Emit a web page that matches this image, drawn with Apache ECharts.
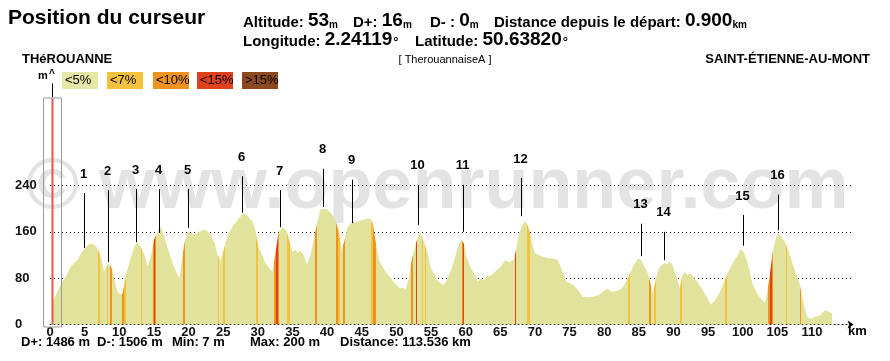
<!DOCTYPE html>
<html><head><meta charset="utf-8">
<script src="https://cdn.jsdelivr.net/npm/echarts@6/dist/echarts.min.js"></script>
<style>html,body{margin:0;padding:0;background:#fff}#c{width:890px;height:361px}</style>
</head><body><div id="c"></div>
<script>
// ---------------- data ----------------
const distKm = [0.3,0.8,1.6,2.4,3.0,3.5,4.0,4.5,5.0,5.7,6.2,6.6,7.0,7.3,7.6,7.8,8.2,8.5,9.0,9.3,9.7,10.2,10.5,10.9,11.3,11.7,12.2,12.6,13.0,13.3,13.7,14.1,14.6,15.0,15.5,15.9,16.3,16.7,17.3,17.9,18.3,18.7,19.0,19.4,19.8,20.1,20.6,21.0,21.5,22.2,22.8,23.2,23.8,24.1,24.6,25.0,25.3,25.8,26.5,27.2,27.9,28.5,29.2,29.6,30.1,30.6,31.1,31.6,32.1,32.5,33.0,33.7,34.2,34.7,35.0,35.4,35.8,36.1,36.6,37.1,37.6,38.3,39.0,39.5,40.0,40.6,41.2,41.7,42.1,42.5,42.9,43.4,43.8,44.5,45.0,45.6,46.2,46.6,46.9,47.2,47.6,48.1,48.6,49.2,49.8,50.5,51.0,51.3,51.8,52.2,52.8,53.4,53.9,54.4,54.9,55.4,55.8,56.3,56.8,57.2,57.7,58.2,58.7,59.1,59.4,59.8,60.1,60.5,60.9,61.3,61.8,62.2,62.6,63.0,63.5,64.0,64.5,65.1,65.7,66.3,66.9,67.3,67.6,68.1,68.6,69.0,69.3,69.6,70.0,70.6,71.2,71.8,72.4,73.0,73.3,73.7,74.1,74.5,75.0,75.5,76.2,76.9,77.6,78.4,79.0,79.3,79.9,80.5,81.1,81.7,82.3,82.9,83.4,83.7,84.3,84.9,85.3,85.8,86.2,86.5,86.8,87.0,87.4,87.8,88.2,88.7,89.1,89.4,89.8,90.1,90.5,90.9,91.2,91.6,92.0,92.4,92.8,93.3,93.7,94.3,94.9,95.4,96.0,96.6,97.2,97.8,98.3,98.8,99.3,99.7,100.1,100.5,101.0,101.4,102.0,102.6,103.2,103.5,103.8,104.3,104.7,105.0,105.4,105.7,106.2,106.7,107.2,107.7,108.2,108.6,109.0,109.3,109.7,110.0,110.5,111.2,111.6,112.0,112.4,112.9];
const altM = [35,50,71,85,100,106,112,124,131,140,139,136,128,117,105,91,100,107,94,80,57,52,54,83,100,117,135,141,136,129,118,100,120,146,160,169,160,143,120,100,88,80,110,140,158,160,155,155,160,164,160,155,140,123,110,125,140,158,172,182,192,188,178,165,134,120,106,98,91,120,160,168,160,137,125,129,123,128,120,103,120,160,198,200,199,192,180,160,129,145,166,174,176,178,180,182,183,175,152,130,108,98,88,80,71,62,64,60,80,111,140,160,145,129,100,88,77,72,68,75,88,105,126,140,147,138,117,105,94,85,74,80,76,83,84,88,94,100,111,108,111,130,152,170,179,170,157,140,123,120,117,115,114,113,111,100,88,74,72,68,60,48,47,48,50,51,58,62,56,58,60,68,80,88,103,114,112,100,92,80,65,54,75,94,102,106,104,109,104,94,80,62,82,91,86,88,83,76,68,58,45,34,42,54,70,88,100,111,120,131,125,114,92,71,55,45,37,55,77,123,145,157,153,149,140,123,105,88,70,48,25,14,10,11,14,16,22,25,22,19];

// slope bands (km from, km to, class index into slopeLabels)
const bandFromKm = [7.0,8.2,8.7,10.4,10.7,13.1,14.85,15.0,15.15,19.2,24.2,25.0,29.8,32.4,32.65,32.9,34.2,38.2,41.3,41.6,42.3,46.4,46.6,52.1,52.8,53.7,54.1,59.5,59.6,67.1,68.9,83.5,86.4,87.2,91.0,97.5,100.0,103.7,104.0,104.2,106.2,108.2];
const bandToKm   = [7.2,8.4,9.0,10.7,10.9,13.35,15.0,15.15,15.3,19.5,24.4,25.2,30.0,32.65,32.9,33.1,34.6,38.6,41.6,41.9,42.6,46.6,47.0,52.4,53.0,53.9,54.3,59.6,59.8,67.3,69.3,83.7,86.7,87.5,91.2,97.7,100.1,104.0,104.2,104.4,106.4,108.4];
const bandClass  = [1,1,2,2,1,1,2,3,2,2,1,1,1,2,3,2,1,2,2,1,2,1,2,2,3,1,1,2,3,3,1,1,2,1,1,1,1,2,3,2,1,2];

const slopeLabels = ['<5%','<7%','<10%','<15%','>15%'];

// numbered summits
const markerName = ['1','2','3','4','5','6','7','8','9','10','11','12','13','14','15','16'];
const markerKm   = [4.9,8.4,12.4,15.7,19.9,27.7,33.2,39.4,43.6,53.1,59.6,68.0,85.3,88.6,100.0,105.1];
const markerTopM = [227,232,234,234,234,256,232,269,250,241,241,253,174,160,189,224];
const markerBotM = [132,108,142,158,167,193,168,203,175,172,160,187,118,111,136,163];

const cursorKm = 0.3;
const cursorAlt = 53, cursorDPlus = 16, cursorDMinus = 0, cursorDist = '0.900';
const cursorLon = '2.24119', cursorLat = '50.63820';
const totalDPlus = 1486, totalDMinus = 1506, minAlt = 7, maxAlt = 200, totalDist = '113.536';
const startName = 'THéROUANNE', endName = 'SAINT-ÉTIENNE-AU-MONT', routeName = '[ TherouannaiseA ]';

// ---------------- styles ----------------
const FF = "'Liberation Sans', Arial, sans-serif";
const slopeColors = ['#e1e39c','#f2c23c','#f0921e','#e0401c','#8e4a1c'];
const legendBoxColors = ['#e4e8a6','#f2c23c','#f0921e','#e0401c','#8e4a1c'];

const profile = distKm.map((d,i)=>[d, altM[i]]);
const pieces = bandFromKm.map((f,i)=>({gte:f, lt:bandToKm[i], color:slopeColors[bandClass[i]]}));
const markers = markerKm.map((k,i)=>[k, markerTopM[i], markerBotM[i]]);

const chart = echarts.init(document.getElementById('c'), null, {renderer:'canvas'});

const lbl = {font:'bold 15px '+FF, fill:'#000', verticalAlign:'bottom'};
const val = {font:'bold 19px '+FF, fill:'#000', verticalAlign:'bottom'};
const unit = {font:'bold 10px '+FF, fill:'#000', verticalAlign:'bottom'};
const deg = {font:'bold 13px '+FF, fill:'#000', verticalAlign:'bottom', padding:[0,0,0,1]};
const richH = {l:lbl, v:val, u:unit, d:deg};

const graphics = [
  {type:'text', z:-10, left:26, top:152, style:{text:'© www.openrunner.com', font:'bold 72px '+FF, fill:'#e3e3e3'}},
  {type:'text', left:8, top:8, style:{text:'Position du curseur', font:'bold 21px '+FF, fill:'#000'}},
  {type:'text', left:243, top:11, style:{text:'{l|Altitude: }{v|'+cursorAlt+'}{u|m}', rich:richH}},
  {type:'text', left:353, top:11, style:{text:'{l|D+: }{v|'+cursorDPlus+'}{u|m}', rich:richH}},
  {type:'text', left:430, top:11, style:{text:'{l|D- : }{v|'+cursorDMinus+'}{u|m}', rich:richH}},
  {type:'text', left:494, top:11, style:{text:'{l|Distance depuis le départ: }{v|'+cursorDist+'}{u|km}', rich:richH}},
  {type:'text', left:243, top:30, style:{text:'{l|Longitude: }{v|'+cursorLon+'}{d|°}', rich:richH}},
  {type:'text', left:415, top:30, style:{text:'{l|Latitude: }{v|'+cursorLat+'}{d|°}', rich:richH}},
  {type:'text', left:22, top:53, style:{text:startName, font:'bold 13px '+FF, fill:'#000'}},
  {type:'text', left:'center', top:54, style:{text:routeName, font:'11px '+FF, fill:'#000'}},
  {type:'text', right:20, top:53, style:{text:endName, font:'bold 13px '+FF, fill:'#000'}},
  {type:'text', left:38, top:70, style:{text:'m', font:'bold 11px '+FF, fill:'#000'}},
  {type:'text', left:49, top:69, style:{text:'^', font:'bold 10px '+FF, fill:'#000'}},
  {type:'text', left:848, top:325, style:{text:'km', font:'bold 13px '+FF, fill:'#000'}},
  {type:'text', left:21, top:336, style:{text:'D+: '+totalDPlus+' m', font:'bold 13px '+FF, fill:'#000'}},
  {type:'text', left:97, top:336, style:{text:'D-: '+totalDMinus+' m', font:'bold 13px '+FF, fill:'#000'}},
  {type:'text', left:172, top:336, style:{text:'Min: '+minAlt+' m', font:'bold 13px '+FF, fill:'#000'}},
  {type:'text', left:250, top:336, style:{text:'Max: '+maxAlt+' m', font:'bold 13px '+FF, fill:'#000'}},
  {type:'text', left:340, top:336, style:{text:'Distance: '+totalDist+' km', font:'bold 13px '+FF, fill:'#000'}}
];
const legendX = [62,107,153,197,242];
slopeLabels.forEach((t,i)=>{
  graphics.push({type:'rect', left:legendX[i], top:72, shape:{width:36,height:17}, style:{fill:legendBoxColors[i]}});
  graphics.push({type:'text', left:legendX[i]+3, top:74, style:{text:t, font:'13px '+FF, fill:'#000'}});
});

chart.setOption({
  animation:false,
  backgroundColor:'#fff',
  grid:{left:50, right:36.4, top:185.5, bottom:36.5},
  xAxis:{type:'value', min:0, max:116, interval:5,
    axisLine:{show:true, symbol:['none','arrow'], symbolSize:[6,6], lineStyle:{color:'#000', type:[1,3], width:1}},
    axisTick:{show:false}, splitLine:{show:false},
    axisLabel:{margin:1, color:'#111', fontFamily:FF, fontWeight:'bold', fontSize:13,
      formatter:v=> v>110 ? '' : String(v)}},
  yAxis:{type:'value', min:0, max:240, interval:80,
    axisLine:{show:false}, axisTick:{show:false},
    splitLine:{show:true, lineStyle:{color:'#000', type:[1,3], width:1}},
    axisLabel:{align:'left', margin:35, color:'#111', fontFamily:FF, fontWeight:'bold', fontSize:13,
      verticalAlign:'middle', padding:[0,0,10,0]}},
  visualMap:{show:false, type:'piecewise', seriesIndex:0, dimension:0, pieces:pieces,
    outOfRange:{color:slopeColors[0]}},
  graphic:graphics,
  series:[
    {type:'line', data:profile, showSymbol:false, symbol:'none', smooth:false,
     lineStyle:{width:0, opacity:0}, areaStyle:{opacity:1}, z:2},
    {type:'custom', data:markers, clip:false, z:5,
     renderItem:function(params, api){
       const i = params.dataIndex;
       const pt = api.coord([api.value(0), api.value(1)]);
       const pb = api.coord([api.value(0), api.value(2)]);
       const x = Math.round(pt[0]) + 0.5;
       return {type:'group', children:[
         {type:'line', shape:{x1:x, y1:pt[1], x2:x, y2:pb[1]}, style:{stroke:'#000', lineWidth:1}},
         {type:'text', x:x-1, y:pt[1]-19, style:{text:markerName[i], fill:'#000', font:'bold 13px '+FF, align:'center', verticalAlign:'middle'}}
       ]};
     }},
    {type:'custom', data:[[cursorKm, 0]], clip:false, z:6,
     renderItem:function(params, api){
       const p = api.coord([api.value(0), api.value(1)]);
       const x = Math.round(p[0]);
       const base = p[1];
       return {type:'group', children:[
         {type:'line', shape:{x1:x+0.5, y1:base-241, x2:x+0.5, y2:base-227}, style:{stroke:'#000', lineWidth:1}},
         {type:'rect', shape:{x:x-8.5, y:base-226.5, width:18, height:229}, style:{fill:'none', stroke:'#9a9a9a', lineWidth:1}},
         {type:'line', shape:{x1:x+0.5, y1:base-226, x2:x+0.5, y2:base}, style:{stroke:'#dd5a50', lineWidth:2}}
       ]};
     }}
  ]
});
</script></body></html>
